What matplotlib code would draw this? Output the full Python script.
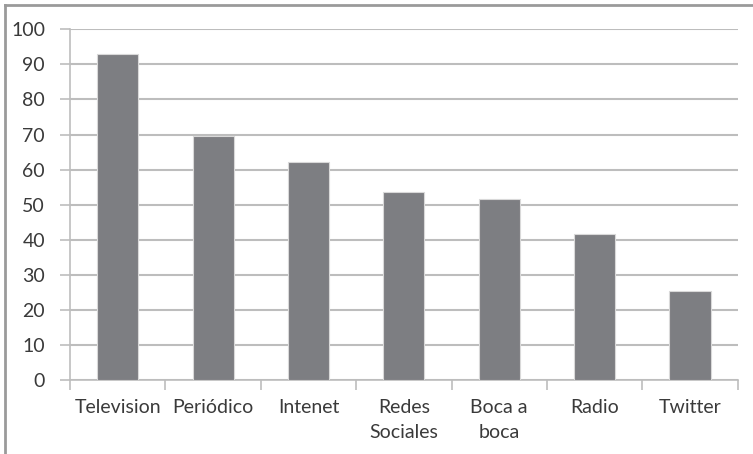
import matplotlib.pyplot as plt
from matplotlib.lines import Line2D
import numpy as np

categorias = ["Television", "Periódico", "Intenet", "Redes\nSociales", "Boca a\nboca", "Radio", "Twitter"]
valores = [92.9, 69.5, 62.2, 53.6, 51.6, 41.6, 25.4]
yticks = [0, 10, 20, 30, 40, 50, 60, 70, 80, 90, 100]

plt.rcParams['font.family'] = ['Lato', 'DejaVu Sans']

fig = plt.figure(figsize=(7.53, 4.54), dpi=100)
ax = fig.add_axes([70 / 753, 1 - 380 / 454, (737.7 - 70) / 753, (380 - 29.3) / 454])

x = np.arange(len(categorias))
ax.bar(x, valores, width=0.43, color='#7d7e82', edgecolor='#d9d9d9', linewidth=0.8, zorder=3)

ax.set_xlim(-0.5, len(categorias) - 0.5)
ax.set_ylim(0, 100)
ax.set_yticks(yticks)
ax.yaxis.grid(True, color='#bdbdbd', linewidth=1.5, zorder=0)

ax.set_xticks(x)
ax.set_xticklabels(categorias, fontsize=14, color='#3a3a3a', linespacing=1.55, va='top')
ax.tick_params(axis='x', which='major', length=0, pad=14)
ax.set_xticks(np.arange(len(categorias) + 1) - 0.5, minor=True)
ax.tick_params(axis='x', which='minor', length=7, color='#bdbdbd', width=1.2, direction='out')
ax.tick_params(axis='y', length=7, color='#bdbdbd', width=1.2, labelsize=14, labelcolor='#3a3a3a', pad=11)

for s in ['top', 'right']:
    ax.spines[s].set_visible(False)
for s in ['left', 'bottom']:
    ax.spines[s].set_color('#bdbdbd')
    ax.spines[s].set_linewidth(1.2)

# marco exterior (solo arriba e izquierda)
fig.add_artist(Line2D([5 / 753, 1], [1 - 5 / 454, 1 - 5 / 454], transform=fig.transFigure, color='#9a9a9a', linewidth=2))
fig.add_artist(Line2D([5 / 753, 5 / 753], [0, 1 - 5 / 454], transform=fig.transFigure, color='#9a9a9a', linewidth=2))

fig.savefig("out.png", dpi=100)
